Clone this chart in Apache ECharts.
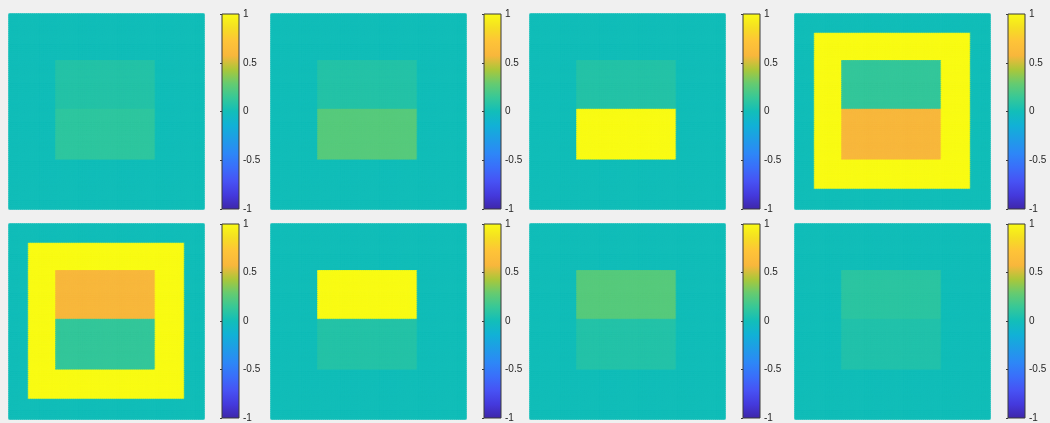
<!DOCTYPE html>
<html>
<head>
<meta charset="utf-8">
<title>Field snapshots</title>
<script src="https://cdn.jsdelivr.net/npm/echarts@6/dist/echarts.min.js"></script>
<style>
  html, body { margin: 0; padding: 0; background: #f0f0f0; }
  #chart { width: 1050px; height: 423px; }
</style>
</head>
<body>
<div id="chart"></div>
<script>
// Eight snapshots of a 100x100 field; each is uniform outside a square
// frame and a split inner block.
const panelBackground = [0, 0, 0, 0, 0, 0, 0, 0];
const frameValue      = [0, 0, 0, 1, 1, 0, 0, 0];
const innerTopValue    = [0.075, 0.075, 0.075, 0.13, 0.58, 1, 0.24, 0.10];
const innerBottomValue = [0.11, 0.24, 1, 0.58, 0.13, 0.075, 0.07, 0.06];

// Grid structure (0-based cell indices on a 100x100 mesh)
const GRID_N = 100;
const frameRange = [10, 89];
const innerRange = [24, 74];
const innerSplitRow = 49;   // first row of the lower half

// Colour bar
const colorbarMin = -1;
const colorbarMax = 1;
const colorbarTicks = [-1, -0.5, 0, 0.5, 1];

// Parula-like colour map, evenly spaced stops from min to max
const parula = [
  '#3E26A8', '#4439DC', '#4752F4', '#3A6EFA', '#2D87F7',
  '#1F9CE7', '#11B1D6', '#12BEB9', '#37C897', '#66CB70',
  '#ABC739', '#F8B73C', '#FEC338', '#F5DF22', '#F9FB14'
];

// Same linear interpolation the visualMap applies; used for cell edges so
// neighbouring cells close up without hairline gaps.
const parulaRGB = parula.map(h => [1, 3, 5].map(i => parseInt(h.slice(i, i + 2), 16)));
function colorOf(v) {
  const t = Math.min(1, Math.max(0, (v - colorbarMin) / (colorbarMax - colorbarMin)));
  const s = t * (parulaRGB.length - 1);
  const i = Math.min(parulaRGB.length - 2, Math.floor(s));
  const f = s - i;
  const c = parulaRGB[i].map((a, k) => Math.round(a + (parulaRGB[i + 1][k] - a) * f));
  return 'rgb(' + c.join(',') + ')';
}

function cellValue(p, row, col) {
  const inBlock = (r, lo, hi) => r >= lo && r <= hi;
  if (inBlock(row, innerRange[0], innerRange[1]) && inBlock(col, innerRange[0], innerRange[1])) {
    return row < innerSplitRow ? innerTopValue[p] : innerBottomValue[p];
  }
  if (inBlock(row, frameRange[0], frameRange[1]) && inBlock(col, frameRange[0], frameRange[1])) {
    return frameValue[p];
  }
  return panelBackground[p];
}

function panelData(p) {
  const out = [];
  for (let r = 0; r < GRID_N; r++) {
    for (let c = 0; c < GRID_N; c++) {
      const v = cellValue(p, r, c);
      out.push({ value: [c, r, v], itemStyle: { borderColor: colorOf(v), borderWidth: 0.8 } });
    }
  }
  return out;
}

const idx = Array.from({ length: GRID_N }, (_, i) => i);

// Layout of the 2x4 tile of panels
const colLeft = [9, 271, 530, 795];
const rowTop = [14, 224];
const panelSize = 195;
const barGap = 18;
const barWidth = 17;
const textColor = '#262626';

const grids = [], xAxes = [], yAxes = [], series = [];

const barGradient = new echarts.graphic.LinearGradient(0, 1, 0, 0,
  parula.map((c, i) => ({ offset: i / (parula.length - 1), color: c })));

for (let p = 0; p < 8; p++) {
  const left = colLeft[p % 4];
  const top = rowTop[Math.floor(p / 4)];

  // image axes
  const g = grids.length;
  grids.push({ left: left, top: top, width: panelSize, height: panelSize });
  xAxes.push({ type: 'category', gridIndex: g, data: idx, show: false });
  yAxes.push({ type: 'category', gridIndex: g, data: idx, inverse: true, show: false });
  series.push({
    type: 'heatmap',
    xAxisIndex: g,
    yAxisIndex: g,
    data: panelData(p),
    progressive: 0,
    emphasis: { disabled: true }
  });

  // colour bar axes
  const b = grids.length;
  grids.push({
    show: true,
    left: left + panelSize + barGap,
    top: top,
    width: barWidth,
    height: panelSize,
    backgroundColor: barGradient,
    borderColor: '#3a3a3a',
    borderWidth: 1
  });
  xAxes.push({ type: 'value', gridIndex: b, show: false, min: 0, max: 1 });
  yAxes.push({
    type: 'value',
    gridIndex: b,
    position: 'right',
    min: colorbarMin,
    max: colorbarMax,
    interval: 0.5,
    axisLine: { show: false },
    splitLine: { show: false },
    axisTick: { show: true, inside: true, length: 2, lineStyle: { color: '#3a3a3a', width: 1 } },
    axisLabel: {
      show: true,
      margin: 4,
      color: textColor,
      fontSize: 10,
      fontFamily: 'Liberation Sans, Arial, sans-serif',
      showMinLabel: true,
      showMaxLabel: true,
      formatter: v => (colorbarTicks.includes(v) ? String(v) : '')
    }
  });
}

const chart = echarts.init(document.getElementById('chart'), null, { renderer: 'canvas' });
chart.setOption({
  backgroundColor: '#f0f0f0',
  animation: false,
  grid: grids,
  xAxis: xAxes,
  yAxis: yAxes,
  visualMap: {
    show: false,
    type: 'continuous',
    min: colorbarMin,
    max: colorbarMax,
    dimension: 2,
    seriesIndex: series.map((_, i) => i),
    inRange: { color: parula }
  },
  series: series
});
</script>
</body>
</html>
